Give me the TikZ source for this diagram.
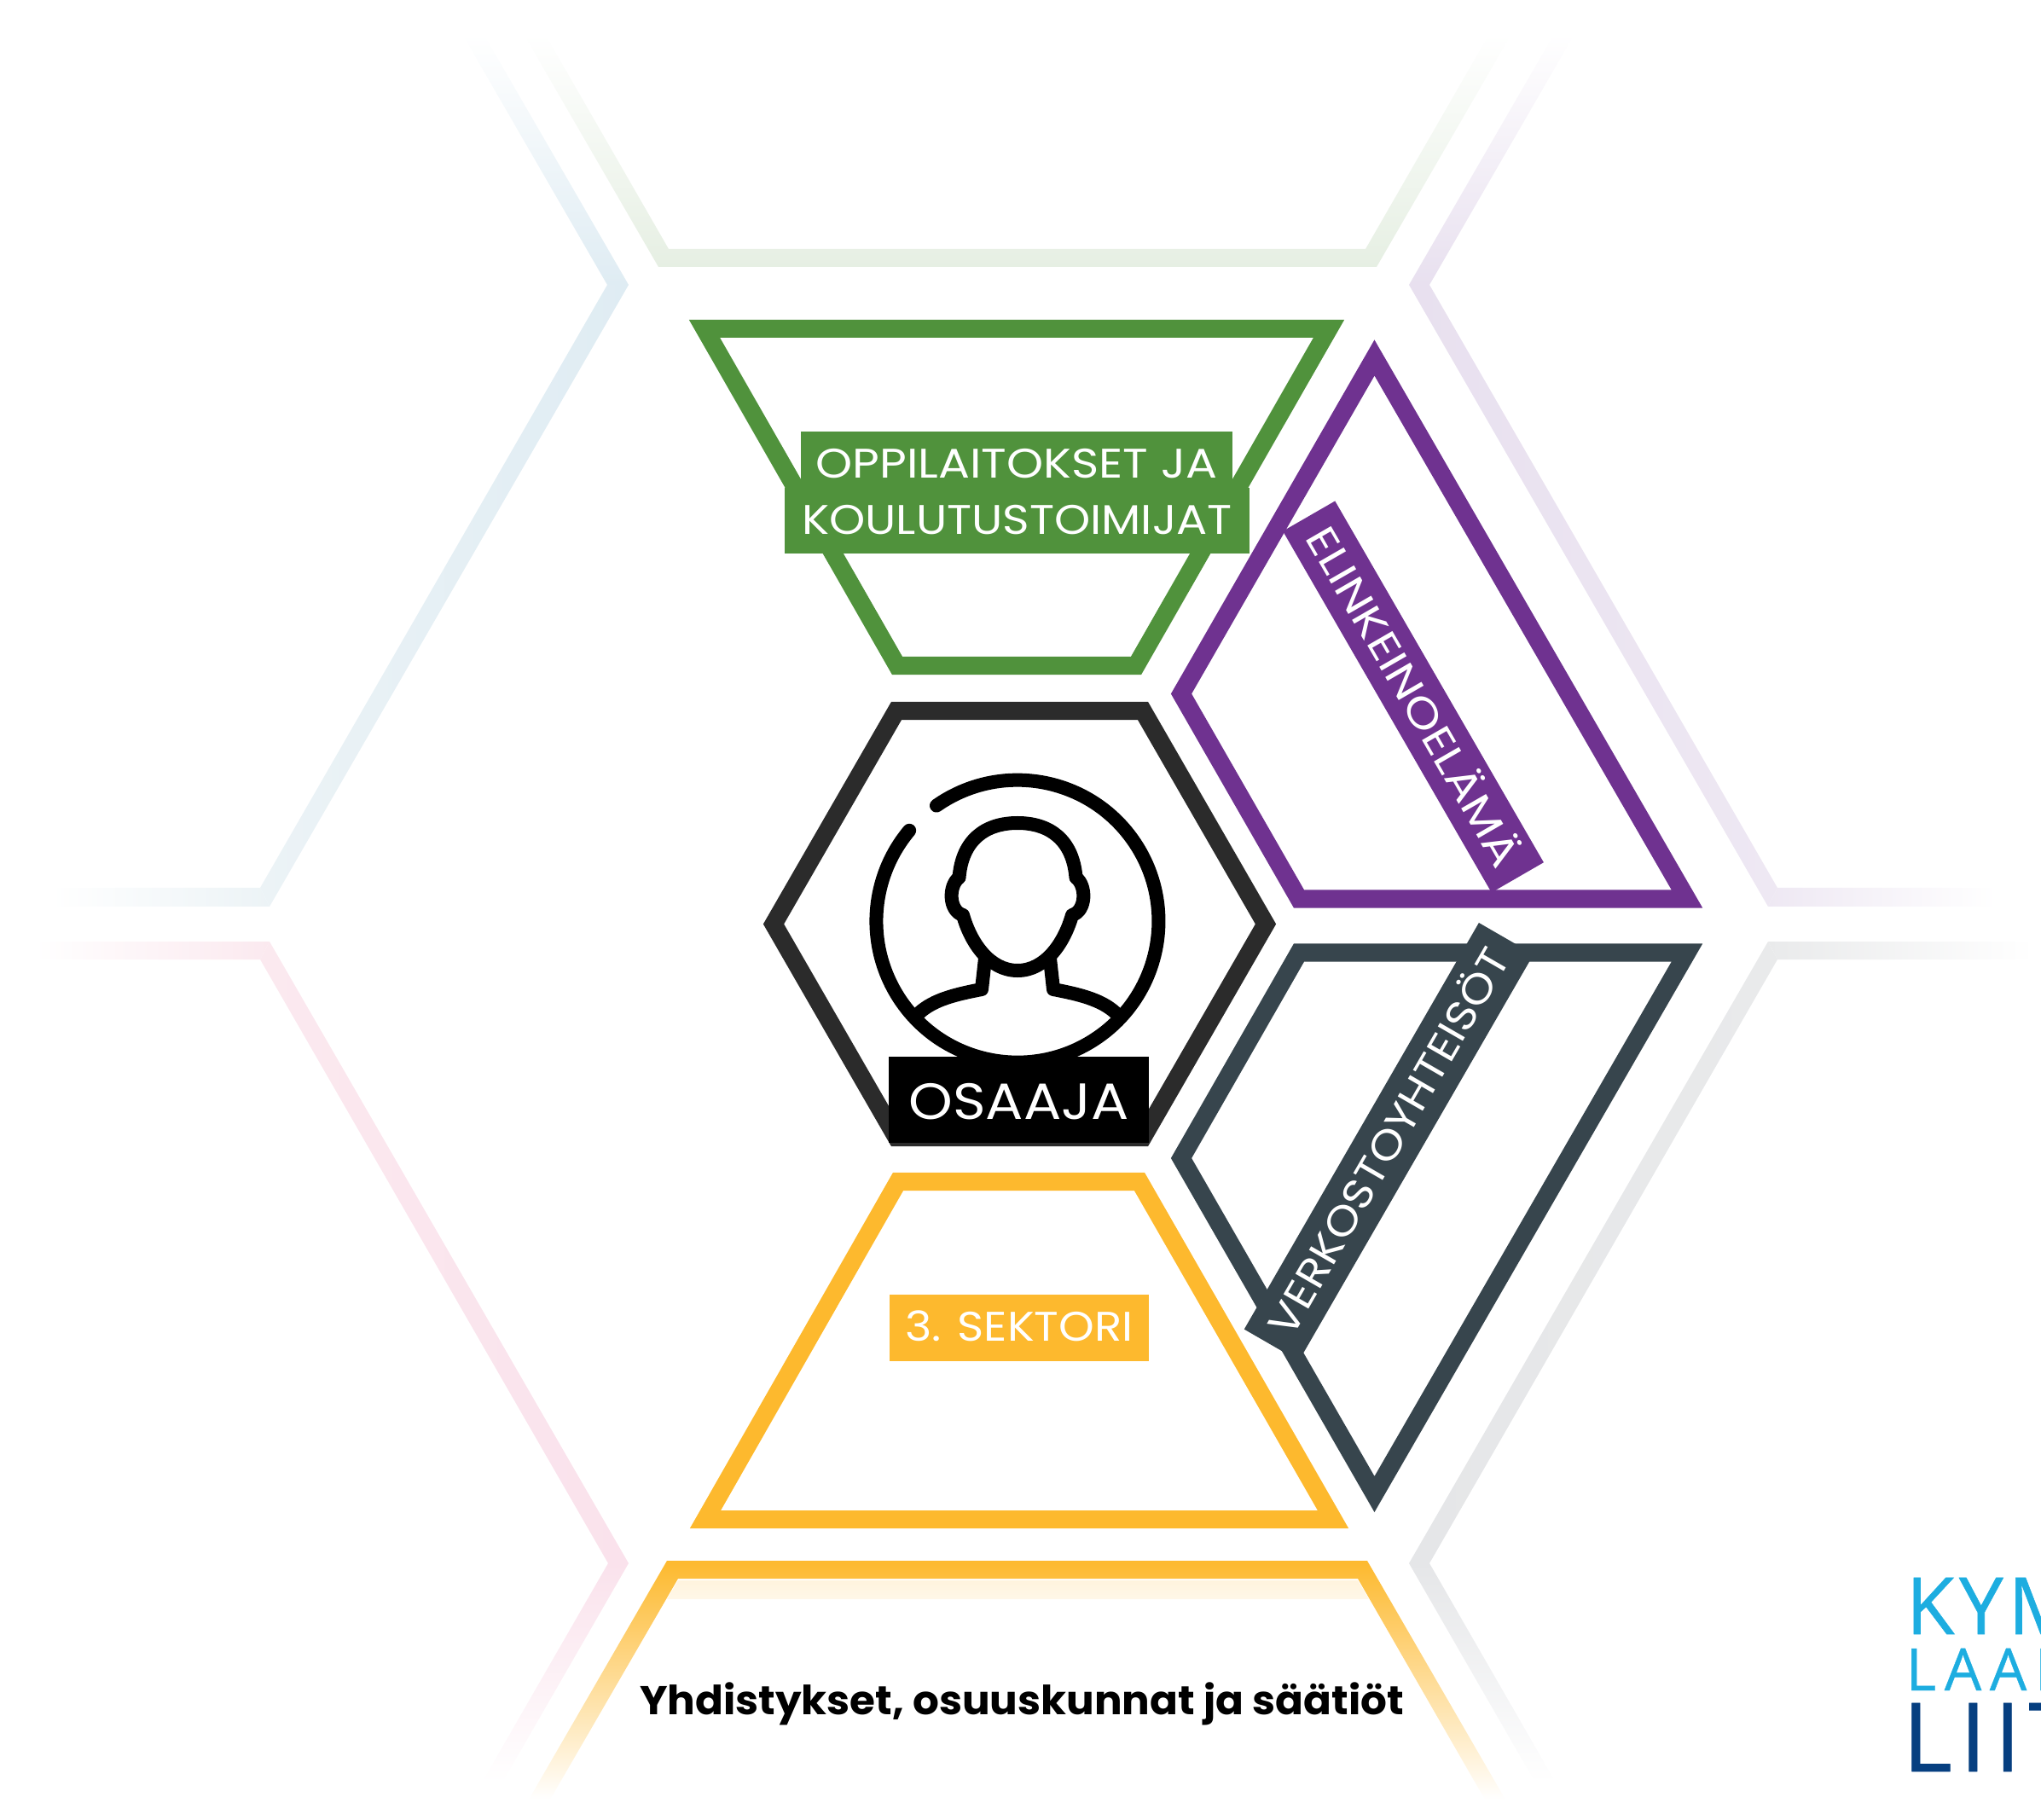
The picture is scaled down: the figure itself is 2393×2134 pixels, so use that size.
\documentclass[tikz,border=0pt]{standalone}
\usepackage{fontspec}
\usepackage{xcolor}
\setmainfont{Poppins}
\newfontfamily\logofont[FakeBold=0.6]{Open Sans}
\definecolor{greenband}{HTML}{50923C}
\definecolor{purpleband}{HTML}{6F3290}
\definecolor{slateband}{HTML}{37454D}
\definecolor{yellowband}{HTML}{FDB92E}
\definecolor{hexdark}{HTML}{2B2B2B}
\definecolor{fadegreen}{HTML}{E6EFE3}
\definecolor{fadeblue}{HTML}{DFECF3}
\definecolor{fadebluec}{HTML}{ECF3F6}
\definecolor{fadepink}{HTML}{FAE2EC}
\definecolor{fadepinkc}{HTML}{FBE9EF}
\definecolor{fadepurple}{HTML}{E8E0EF}
\definecolor{fadepurplec}{HTML}{EEE8F3}
\definecolor{fadegrey}{HTML}{E5E6E8}
\definecolor{fadegreyc}{HTML}{E9EAEB}
\definecolor{logolight}{HTML}{1DADE0}
\definecolor{logodark}{HTML}{063F80}
\newcommand{\labelfont}[2]{\fontsize{#1}{20}\selectfont\addfontfeature{FakeStretch=#2}}
\newcommand{\logosize}[2]{\fontsize{#1}{36}\logofont\addfontfeature{LetterSpace=#2}}
\begin{document}
\begin{tikzpicture}[x=0.01cm,y=-0.01cm,
  band/.style={line width=0.21cm,line join=miter},
  person/.style={line width=0.16cm,line join=round,line cap=round},
  labelbox/.style={fill=#1,text=white,inner sep=0pt,align=center},
  logotext/.style={anchor=base west,inner sep=0pt,text=#1}]
\useasboundingbox (0,0) rectangle (2393,2134);
% faded outer shapes
\shade[top color=white,bottom color=fadegreen] (614,40)--(772,313)--(1614,313)--(1772,40)--(1746,40)--(1601,292)--(784,292)--(639,40)--cycle;
\shade[top color=white,bottom color=fadeblue] (737,334)--(712,334)--(542,40)--(567,40)--cycle;
\shade[left color=fadebluec,right color=fadeblue] (737,334)--(316,1063)--(305,1041)--(712,334)--cycle;
\shade[left color=white,right color=fadebluec] (316,1063)--(305,1041)--(60,1041)--(60,1063)--cycle;
\shade[bottom color=white,top color=fadepink] (737,1833)--(713,1833)--(565,2090)--(589,2090)--cycle;
\shade[left color=fadepinkc,right color=fadepink] (737,1833)--(316,1104)--(305,1125)--(713,1833)--cycle;
\shade[left color=white,right color=fadepinkc] (316,1104)--(305,1125)--(40,1125)--(40,1104)--cycle;
\shade[top color=white,bottom color=fadepurple] (1652,334)--(1676,334)--(1846,40)--(1822,40)--cycle;
\shade[right color=fadepurplec,left color=fadepurple] (1652,334)--(2073,1063)--(2084,1041)--(1676,334)--cycle;
\shade[right color=white,left color=fadepurplec] (2073,1063)--(2084,1041)--(2340,1041)--(2340,1063)--cycle;
\shade[bottom color=white,top color=fadegrey] (1652,1833)--(1676,1833)--(1824,2090)--(1800,2090)--cycle;
\shade[right color=fadegreyc,left color=fadegrey] (1652,1833)--(2073,1104)--(2084,1125)--(1676,1833)--cycle;
\shade[right color=white,left color=fadegreyc] (2073,1104)--(2084,1125)--(2385,1125)--(2385,1104)--cycle;
\shade[top color=yellowband,middle color=yellowband!18,bottom color=white]
  (620,2110)--(782,1830)--(1603,1830)--(1765,2110)--(1741,2110)--(1592,1851)--(795,1851)--(645,2110)--cycle;
\shade[top color=yellowband!16,bottom color=yellowband!11] (795,1853)--(1592,1853)--(1605,1875)--(782,1875)--cycle;
% bands
\draw[band,greenband] (826,385.5)--(1558,385.5)--(1332,780.5)--(1052,780.5)--cycle;
\draw[band,purpleband] (1611.5,419.5)--(1978,1054)--(1523,1054)--(1385,813.5)--cycle;
\draw[band,slateband] (1523,1117)--(1978,1117)--(1611.5,1752)--(1385,1358)--cycle;
\draw[band,yellowband] (1053,1385.5)--(1336,1385.5)--(1563,1781.5)--(827,1781.5)--cycle;
\draw[band,hexdark] (1051,833.5)--(1340,833.5)--(1484,1083.5)--(1340,1333.5)--(1051,1333.5)--(907,1083.5)--cycle;
% person
\draw[person] (1098,944.6) arc[start angle=-125,end angle=220,radius=165.5];
\draw[person] (1129,1073) .. controls (1138,1105) and (1160,1138) .. (1193,1138)
  .. controls (1226,1138) and (1248,1105) .. (1257,1073)
  .. controls (1274,1068) and (1274,1038) .. (1261.5,1029)
  .. controls (1258,985) and (1231,965) .. (1193,965)
  .. controls (1155,965) and (1128,985) .. (1124.5,1029)
  .. controls (1112,1038) and (1112,1068) .. (1129,1073);
\draw[person] (1155,1124)--(1151,1160) .. controls (1120,1166) and (1095,1172) .. (1077.7,1187.6);
\draw[person] (1231,1124)--(1235,1160) .. controls (1266,1166) and (1291,1172) .. (1308,1187.6);
% labels
\node[labelbox=greenband,minimum width=5.06cm,text height=0.54cm,text depth=0.12cm,font=\labelfont{13.8}{1.13}] (oppilaitokset) at (1192,539) {OPPILAITOKSET JA};
\node[labelbox=greenband,minimum width=5.45cm,text height=0.54cm,text depth=0.23cm,font=\labelfont{13.8}{1.107}] (koulutus) at (1192.5,610.5) {KOULUTUSTOIMIJAT};
\node[labelbox=yellowband,minimum width=3.04cm,text height=0.54cm,text depth=0.24cm,font=\labelfont{13.8}{1.094}] (sektori) at (1195,1557) {3. SEKTORI};
\node[labelbox=black,minimum width=3.05cm,text height=0.73cm,text depth=0.28cm,font=\labelfont{17}{1.1}] (osaaja) at (1194.5,1289.5) {OSAAJA};
\node[labelbox=purpleband,minimum width=4.89cm,text height=0.52cm,text depth=0.186cm,rotate=-60,font=\labelfont{13.8}{1.176}] (elinkeino) at (1657,817) {ELINKEINOELÄMÄ};
\node[labelbox=slateband,minimum width=5.5cm,text height=0.54cm,text depth=0.2cm,rotate=60,font=\labelfont{13.8}{1.107}] (verkosto) at (1628.4,1338.8) {VERKOSTOYHTEISÖT};
\node[anchor=base,inner sep=0pt,font=\labelfont{13.4}{1.028}\bfseries] (yhdistykset) at (1198,2010) {Yhdistykset, osuuskunnat ja säätiöt};
% logo
\node[logotext=logolight,font=\logosize{26.3}{6}] (kym) at (2234,1916) {KYM};
\node[logotext=logolight,font=\logosize{19.5}{14}] (laak) at (2234,1982) {LAAK};
\node[logotext=logodark,font=\logosize{31.9}{8}] (liit) at (2230,2077) {LIIT};
\end{tikzpicture}
\end{document}
